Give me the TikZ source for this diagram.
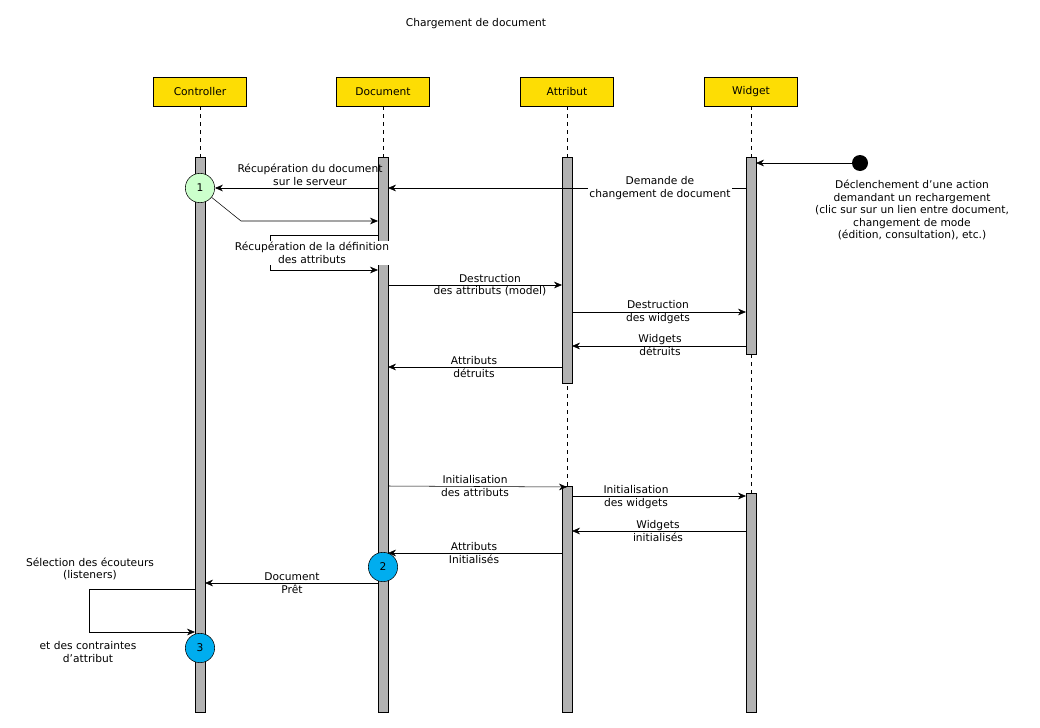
\documentclass[tikz,border=0pt]{standalone}
\usepackage{fontspec}
\setmainfont{DejaVu Sans}
\usetikzlibrary{arrows.meta}
\begin{document}
\begin{tikzpicture}[x=0.75pt,y=-0.75pt,
  font=\fontsize{8}{9.4}\selectfont,
  head/.style={draw,fill=yellow!80!orange,minimum width=70pt,minimum height=22pt,inner sep=0pt},
  bar/.style={draw,fill=gray!60},
  life/.style={dashed,thin},
  msg/.style={-{Stealth[length=6pt,width=5pt]},thin},
  lbl/.style={align=center,inner sep=1pt},
  circ/.style={draw,circle,minimum size=22pt,inner sep=0pt}]
\useasboundingbox (0,0) rectangle (1040,728);
\node at (476,24) {Chargement de document};
\foreach \n/\x/\t in {C/200/Controller,D/383/Document,A/567/Attribut,W/751/Widget}{
  \node[head] (h\n) at (\x,91.5) {\t};
  \coordinate (e\n) at (\x,712);
  \draw[life] (h\n.south) -- (e\n);
}
\draw[bar] (195,157) rectangle (205,712);
\draw[bar] (378,157) rectangle (388,712);
\draw[bar] (562,157) rectangle (572,383);
\draw[bar] (562,486) rectangle (572,712);
\draw[bar] (746,157) rectangle (756,354);
\draw[bar] (746,493) rectangle (756,712);
\node[circ,fill=green!20] (c1) at (200,188) {1};
\node[circ,fill=cyan] (c2) at (383,567) {2};
\node[circ,fill=cyan] (c3) at (200,648) {3};
\node[circle,fill=black,minimum size=12pt,inner sep=0pt] (dot) at (860,163) {};
\coordinate (wdot) at (756,163);
\draw[msg] (dot) -- (wdot);
\node[lbl] at (912,210) {Déclenchement d'une action\\demandant un rechargement\\(clic sur sur un lien entre document,\\changement de mode\\(édition, consultation), etc.)};
\draw[msg] (378,188) -- (c1);
\node[lbl] at (310,175) {Récupération du document\\sur le serveur};
\draw[msg] (c1) -- (241,221) -- (378,221);
\draw[msg] (378,235) -- (270,235) -- (270,270) -- (378,270);
\node[lbl,fill=white] at (312,253) {Récupération de la définition\\des attributs};
\draw[msg] (746,188) -- (388,188);
\node[lbl,fill=white] at (660,188) {Demande de\\changement de document};
\draw[msg] (388,285) -- (562,285);
\node[lbl] at (490,285) {Destruction\\des attributs (model)};
\draw[msg] (572,312) -- (746,312);
\node[lbl] at (658,312) {Destruction\\des widgets};
\draw[msg] (746,346) -- (572,346);
\node[lbl] at (660,345) {Widgets\\détruits};
\draw[msg] (562,367) -- (388,367);
\node[lbl] at (474,367) {Attributs\\détruits};
\draw[msg] (388,486) -- (567,487);
\node[lbl] at (475,486) {Initialisation\\des attributs};
\draw[msg] (572,496) -- (746,496);
\node[lbl] at (636,497) {Initialisation\\des widgets};
\draw[msg] (746,531) -- (572,531);
\node[lbl] at (658,531) {Widgets\\initialisés};
\draw[msg] (562,553) -- (388,553);
\node[lbl] at (474,553) {Attributs\\Initialisés};
\draw[msg] (378,583) -- (205,583);
\node[lbl] at (292,583) {Document\\Prêt};
\draw[msg] (195,589) -- (89,589) -- (89,632) -- (195,632);
\node[lbl] at (90,569) {Sélection des écouteurs\\(listeners)};
\node[lbl] at (88,652) {et des contraintes\\d'attribut};
\end{tikzpicture}
\end{document}
